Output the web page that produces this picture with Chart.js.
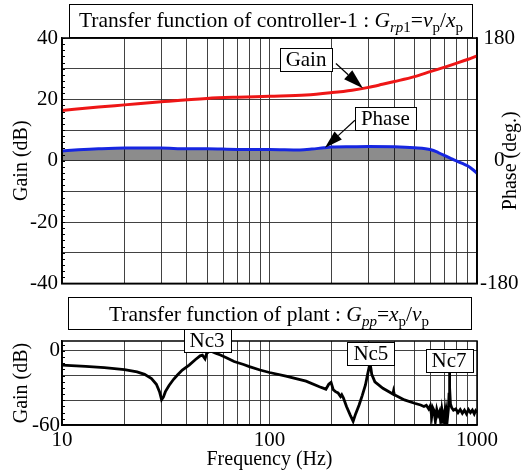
<!DOCTYPE html>
<html>
<head>
<meta charset="utf-8">
<script src="https://cdn.jsdelivr.net/npm/chart.js@4.4.1/dist/chart.umd.min.js"></script>
<style>
  html, body { margin: 0; padding: 0; background: #fff; }
  #wrap { position: relative; width: 525px; height: 475px; }
  canvas { position: absolute; left: 0; }
  #ctrl  { top: 0; }
  #plant { top: 297px; }
</style>
</head>
<body>
<div id="wrap">
  <canvas id="ctrl" width="525" height="300"></canvas>
  <canvas id="plant" width="525" height="178"></canvas>
</div>
<script>
// ── Datos ──────────────────────────────────────────────────────────
const FREQ_GRID   = [10, 20, 30, 40, 50, 60, 70, 80, 90, 100, 200, 300, 400, 500, 600, 700, 800, 900, 1000];
const FREQ_LABELS = [10, 100, 1000];

const GAIN_TICKS  = [-40, -30, -20, -10, 0, 10, 20, 30, 40];
const PHASE_TICKS = [-180, 0, 180];
const PLANT_TICKS = [-60, -40, -20, 0];

// controlador: ganancia (dB)
const GAIN_FREQ = [10, 15, 20, 30, 50, 70, 100, 150, 200, 250, 300, 350, 400, 500, 600, 700, 800, 900, 1000];
const GAIN_DB   = [16.4, 17.5, 18.2, 19.2, 20.3, 20.7, 21.0, 21.4, 22.2, 23.0, 23.9, 24.9, 25.8, 27.4, 29.1, 30.5, 31.8, 33.0, 34.2];

// controlador: fase (grados)
const PHASE_FREQ = [10, 12, 15, 20, 30, 40, 50, 70, 100, 140, 160, 183, 200, 250, 300, 400, 500, 600, 650, 700, 750, 800, 850, 900, 950, 1000];
const PHASE_DEG  = [14.4, 16.0, 17.5, 18.6, 18.5, 17.5, 17.5, 16.5, 16.5, 15.8, 17.0, 19.0, 20.0, 20.5, 20.8, 20.5, 19.0, 16.0, 12.0, 7.5, 3.0, -0.5, -4.0, -7.5, -12.5, -18.5];

// planta: ganancia (dB)
const PLANT_FREQ = [10, 13, 16, 20, 23, 25, 27, 28.5, 29.5, 30.2, 30.8, 31.5, 32.8, 34.5, 36, 38, 41, 44, 46.3, 47.5, 48, 48.9, 49.8, 51, 52, 55, 58, 62, 67.5, 75, 80, 90, 100, 120, 150, 174, 187, 193, 198, 203, 208, 214, 220, 223, 227, 235, 245, 253, 260, 270, 280, 290, 297, 305, 308, 311, 322, 352, 380, 393, 396, 400, 447, 500, 535, 555, 570, 585, 595, 605, 612, 620, 630, 640, 650, 660, 670, 678, 688, 697, 705, 712, 720, 728, 733, 736, 740, 745, 755, 770, 790, 810, 830, 850, 870, 890, 910, 930, 950, 970, 985, 1000];
const PLANT_DB   = [-11.5, -12.5, -13.6, -15.2, -17, -19, -22.5, -27, -33, -39.5, -37.5, -33, -28, -23, -19.5, -15.5, -11.5, -7, -4, -3.5, -4.6, -6.5, -2, -0.6, 0, -1.8, -3.3, -5.5, -8.6, -11, -12.7, -15.5, -17.5, -20.5, -24.5, -29, -31, -27, -25.5, -31.5, -33, -34, -37, -35.5, -38, -45, -52, -57, -51, -44, -36, -27.6, -19, -10, -14, -19, -25, -30.3, -33.5, -35, -32.5, -35.5, -39.7, -42.4, -43.8, -45, -44, -47, -44.5, -53, -46, -48, -57, -47.5, -52, -49, -59, -48, -55, -50, -60, -49, -55, -47, -35, -17, -30, -43, -46, -48, -47, -50, -47.5, -50.5, -48, -51, -47.5, -50, -48, -51, -48.5, -50];

const pts = (xs, ys) => xs.map((x, i) => ({ x, y: ys[i] }));

// ── Estilo ─────────────────────────────────────────────────────────
const SERIF      = '"Liberation Serif", "Times New Roman", serif';
const GRID_COLOR = 'rgba(45,45,45,0.9)';
const RED        = 'rgb(238,22,22)';
const BLUE       = 'rgb(22,38,225)';
const FILL_GRAY  = 'rgba(0,0,0,0.45)';
const F20        = { family: SERIF, size: 20 };
const F21        = { family: SERIF, size: 21 };

Chart.defaults.font.family = SERIF;
Chart.defaults.font.size   = 20;
Chart.defaults.color       = '#000';
Chart.defaults.animation   = false;

// texto con cursivas y subíndices
function drawRich(ctx, parts, cx, cy, size) {
  const fontOf = p => `${p.it ? 'italic ' : ''}${p.sub ? Math.round(size * 0.68) : size}px ${SERIF}`;
  let total = 0;
  parts.forEach(p => { ctx.font = fontOf(p); p.w = ctx.measureText(p.t).width; total += p.w; });
  let x = cx - total / 2;
  const base = cy + size * 0.33;
  ctx.fillStyle = '#000';
  ctx.textAlign = 'left';
  ctx.textBaseline = 'alphabetic';
  parts.forEach(p => {
    ctx.font = fontOf(p);
    ctx.fillText(p.t, x, base + (p.sub ? size * 0.22 : 0));
    x += p.w;
  });
}

function box(ctx, x0, y0, x1, y1) {
  ctx.fillStyle = '#fff';
  ctx.fillRect(x0, y0, x1 - x0, y1 - y0);
  ctx.strokeStyle = '#000';
  ctx.lineWidth = 1;
  ctx.strokeRect(x0 + 0.5, y0 + 0.5, x1 - x0, y1 - y0);
}

function labelBox(ctx, text, cx, cy, size) {
  ctx.font = `${size}px ${SERIF}`;
  const w = ctx.measureText(text).width + 12;
  const h = size + 2;
  box(ctx, Math.round(cx - w / 2), Math.round(cy - h / 2), Math.round(cx + w / 2), Math.round(cy + h / 2));
  ctx.fillStyle = '#000';
  ctx.textAlign = 'center';
  ctx.textBaseline = 'middle';
  ctx.fillText(text, cx, cy + 1);
}

function arrow(ctx, x0, y0, x1, y1, head) {
  const a = Math.atan2(y1 - y0, x1 - x0);
  const bx = x1 - head * Math.cos(a), by = y1 - head * Math.sin(a);
  ctx.strokeStyle = '#000';
  ctx.lineWidth = 1.2;
  ctx.beginPath(); ctx.moveTo(x0, y0); ctx.lineTo(bx, by); ctx.stroke();
  const hw = head * 0.3;
  ctx.fillStyle = '#000';
  ctx.beginPath();
  ctx.moveTo(x1, y1);
  ctx.lineTo(bx + hw * Math.sin(a), by - hw * Math.cos(a));
  ctx.lineTo(bx - hw * Math.sin(a), by + hw * Math.cos(a));
  ctx.closePath(); ctx.fill();
}

// marco del área y marcas menores del eje izquierdo
function frame(chart, minorStep) {
  const { ctx, chartArea: a } = chart;
  const y = chart.scales.y;
  ctx.save();
  ctx.strokeStyle = '#000';
  ctx.lineWidth = 1;
  for (let v = y.min; v <= y.max; v += minorStep) {
    const py = Math.round(y.getPixelForValue(v)) + 0.5;
    ctx.beginPath(); ctx.moveTo(a.left, py); ctx.lineTo(a.left + 3, py); ctx.stroke();
  }
  ctx.lineWidth = 1.5;
  ctx.strokeRect(a.left, a.top, a.right - a.left, a.bottom - a.top);
  ctx.restore();
}

const logX = (display) => ({
  type: 'logarithmic',
  min: 10,
  max: 1000,
  afterBuildTicks: s => { s.ticks = FREQ_GRID.map(v => ({ value: v })); },
  grid: { color: GRID_COLOR, lineWidth: 1, drawTicks: false },
  border: { color: '#000', width: 1.5 },
  ticks: {
    display,
    autoSkip: false,
    maxRotation: 0,
    padding: 3,
    font: F21,
    callback: v => FREQ_LABELS.includes(v) ? String(v) : ''
  }
});

// ── Controlador ────────────────────────────────────────────────────
const ctrlPlugin = {
  id: 'ctrlDecor',
  afterDraw(chart) {
    const { ctx, scales: { x, y, y1 } } = chart;
    frame(chart, 2);
    ctx.save();
    box(ctx, 69, 4, 472, 37);
    drawRich(ctx, [
      { t: 'Transfer function of controller-1 : ' },
      { t: 'G', it: true }, { t: 'rp', it: true, sub: true }, { t: '1', sub: true },
      { t: '=' }, { t: 'v', it: true }, { t: 'p', sub: true },
      { t: '/' }, { t: 'x', it: true }, { t: 'p', sub: true }
    ], 271, 20, 21.5);

    // flecha "Gain"
    arrow(ctx, x.getPixelForValue(209), y.getPixelForValue(31.7),
               x.getPixelForValue(282), y.getPixelForValue(23.6), 20);
    labelBox(ctx, 'Gain', x.getPixelForValue(150), y.getPixelForValue(33), 21);

    // flecha "Phase"
    arrow(ctx, x.getPixelForValue(258), y.getPixelForValue(13.2),
               x.getPixelForValue(185), y1.getPixelForValue(19), 18);
    labelBox(ctx, 'Phase', x.getPixelForValue(362), y.getPixelForValue(13.9), 21);

    // título del eje derecho
    ctx.translate(511, (chart.chartArea.top + chart.chartArea.bottom) / 2);
    ctx.rotate(-Math.PI / 2);
    ctx.font = `20px ${SERIF}`;
    ctx.fillStyle = '#000';
    ctx.textAlign = 'center';
    ctx.textBaseline = 'middle';
    ctx.fillText('Phase (deg.)', 0, 0);
    ctx.restore();
  }
};

new Chart(document.getElementById('ctrl'), {
  type: 'line',
  data: {
    datasets: [
      {
        label: 'Gain',
        data: pts(GAIN_FREQ, GAIN_DB),
        yAxisID: 'y',
        borderColor: RED,
        borderWidth: 3,
        pointRadius: 0,
        cubicInterpolationMode: 'monotone',
        fill: false
      },
      {
        label: 'Phase',
        data: pts(PHASE_FREQ, PHASE_DEG),
        yAxisID: 'y1',
        borderColor: BLUE,
        borderWidth: 3,
        pointRadius: 0,
        cubicInterpolationMode: 'monotone',
        fill: { target: { value: 0 }, above: FILL_GRAY, below: 'rgba(0,0,0,0)' }
      }
    ]
  },
  options: {
    responsive: false,
    layout: { padding: { top: 38, left: 0, right: 0, bottom: 0 } },
    plugins: { legend: { display: false }, tooltip: { enabled: false } },
    scales: {
      x: Object.assign(logX(false), { afterFit: s => { s.height = 4; } }),
      y: {
        position: 'left',
        min: -40,
        max: 40,
        afterBuildTicks: s => { s.ticks = GAIN_TICKS.map(v => ({ value: v })); },
        afterFit: s => { s.width = 62; },
        grid: { color: GRID_COLOR, lineWidth: 1, drawTicks: false },
        border: { color: '#000', width: 1.5 },
        ticks: { padding: 4, font: F21, autoSkip: false, callback: v => v % 20 === 0 ? String(v) : '' },
        title: { display: true, text: 'Gain (dB)', font: F20, padding: { top: 10, bottom: 0 } }
      },
      y1: {
        position: 'right',
        min: -180,
        max: 180,
        afterBuildTicks: s => { s.ticks = PHASE_TICKS.map(v => ({ value: v })); },
        afterFit: s => { s.width = 48; },
        grid: { drawOnChartArea: false, drawTicks: false },
        border: { color: '#000', width: 1.5 },
        ticks: { padding: 3, font: F21, autoSkip: false, crossAlign: 'center' }
      }
    }
  },
  plugins: [ctrlPlugin]
});

// ── Planta ─────────────────────────────────────────────────────────
const plantPlugin = {
  id: 'plantDecor',
  afterDraw(chart) {
    const { ctx, scales: { x, y } } = chart;
    frame(chart, 5);
    ctx.save();
    box(ctx, 68, 0, 471, 32);
    drawRich(ctx, [
      { t: 'Transfer function of plant : ' },
      { t: 'G', it: true }, { t: 'pp', it: true, sub: true },
      { t: '=' }, { t: 'x', it: true }, { t: 'p', sub: true },
      { t: '/' }, { t: 'v', it: true }, { t: 'p', sub: true }
    ], 269, 17, 21.5);

    labelBox(ctx, 'Nc3', x.getPixelForValue(50),  y.getPixelForValue(8.5), 21);
    labelBox(ctx, 'Nc5', x.getPixelForValue(308), y.getPixelForValue(-2),  21);
    labelBox(ctx, 'Nc7', x.getPixelForValue(733), y.getPixelForValue(-7.7), 21);
    ctx.restore();
  }
};

new Chart(document.getElementById('plant'), {
  type: 'line',
  data: {
    datasets: [{
      label: 'Plant',
      data: pts(PLANT_FREQ, PLANT_DB),
      borderColor: '#000',
      borderWidth: 2.8,
      pointRadius: 0,
      tension: 0,
      fill: false
    }]
  },
  options: {
    responsive: false,
    layout: { padding: { top: 44, left: 0, right: 48, bottom: 0 } },
    plugins: { legend: { display: false }, tooltip: { enabled: false } },
    scales: {
      x: Object.assign(logX(true), {
        afterFit: s => { s.height = 50; },
        title: { display: true, text: 'Frequency (Hz)', font: F20, padding: { top: 0, bottom: 3 } }
      }),
      y: {
        min: -60,
        max: 8,
        afterBuildTicks: s => { s.ticks = PLANT_TICKS.map(v => ({ value: v })); },
        afterFit: s => { s.width = 62; },
        grid: { color: GRID_COLOR, lineWidth: 1, drawTicks: false },
        border: { color: '#000', width: 1.5 },
        ticks: { padding: 2, font: F21, autoSkip: false, callback: v => (v === 0 || v === -60) ? String(v) : '' },
        title: { display: true, text: 'Gain (dB)', font: F20, padding: { top: 10, bottom: 0 } }
      }
    }
  },
  plugins: [plantPlugin]
});
</script>
</body>
</html>
